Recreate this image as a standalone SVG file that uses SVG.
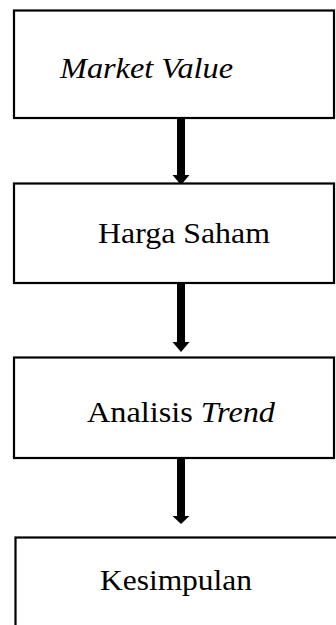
<svg xmlns="http://www.w3.org/2000/svg" width="336" height="625" viewBox="0 0 336 625">
<style>
.box{fill:#fff;stroke:#000;stroke-width:2.2}
.t{font-family:'Liberation Serif','Times New Roman',serif;font-size:29px;fill:#000}
.i{font-style:italic}
.shaft{fill:#000}
</style>
<rect width="336" height="625" fill="#fff"/>
<g id="connectors">
<g id="a1"><rect class="shaft" x="177" y="118" width="8" height="58"/><polygon class="shaft" points="172.5,175 189.5,175 181,185"/></g>
<g id="a2"><rect class="shaft" x="177" y="284" width="8" height="59"/><polygon class="shaft" points="172.5,342 189.5,342 181,352"/></g>
<g id="a3"><rect class="shaft" x="177" y="459" width="8" height="58"/><polygon class="shaft" points="172.5,516 189.5,516 181,524"/></g>
</g>
<g id="n1"><rect class="box" x="14" y="10.5" width="320" height="107.5"/><text class="t i" font-family="Liberation Serif" x="60" y="78" textLength="173" lengthAdjust="spacingAndGlyphs">Market Value</text></g>
<g id="n2"><rect class="box" x="14" y="183.5" width="320" height="99.5"/><text class="t" font-family="Liberation Serif" x="98" y="243" textLength="172" lengthAdjust="spacingAndGlyphs">Harga Saham</text></g>
<g id="n3"><rect class="box" x="14" y="357.5" width="320" height="100.5"/><text class="t" font-family="Liberation Serif" x="87" y="422" textLength="188" lengthAdjust="spacingAndGlyphs">Analisis <tspan class="i">Trend</tspan></text></g>
<g id="n4"><rect class="box" x="15.5" y="537.5" width="330" height="100"/><text class="t" font-family="Liberation Serif" x="100" y="590" textLength="152" lengthAdjust="spacingAndGlyphs">Kesimpulan</text></g>
</svg>
